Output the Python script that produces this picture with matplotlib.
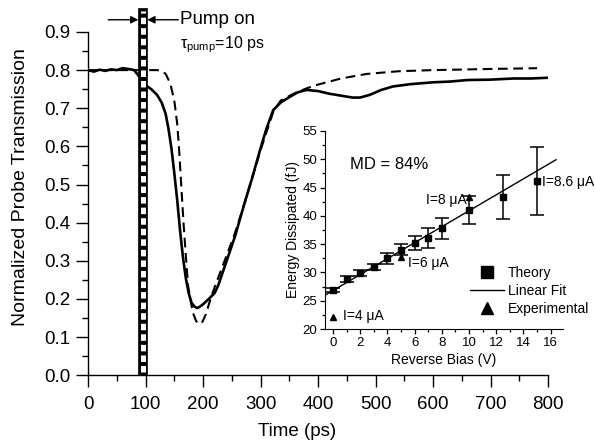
import numpy as np
import matplotlib
matplotlib.use("Agg")
import matplotlib.pyplot as plt
from matplotlib.lines import Line2D
from matplotlib.patches import Rectangle

plt.rcParams['font.family'] = ['Liberation Sans', 'DejaVu Sans']
plt.rcParams['mathtext.fontset'] = 'custom'
plt.rcParams['mathtext.rm'] = 'Liberation Sans'
plt.rcParams['mathtext.it'] = 'Liberation Sans'
plt.rcParams['lines.scale_dashes'] = False

# ---- main chart data: measured probe transmission (solid) ----
meas_t = [0, 10, 20, 30, 40, 50, 60, 70, 80, 88, 95, 103, 110, 120, 128, 135, 140,
          145, 150, 155, 160, 165, 170, 175, 180, 185, 190, 195, 200, 210, 220, 226,
          240, 256, 270, 285, 300, 310, 322, 335, 351, 365, 380, 400, 420, 440, 460,
          473, 490, 510, 530, 560, 600, 630, 660, 700, 740, 770, 800]
meas_v = [0.800, 0.796, 0.801, 0.798, 0.802, 0.800, 0.805, 0.803, 0.800, 0.785, 0.770,
          0.757, 0.750, 0.735, 0.715, 0.685, 0.645, 0.595, 0.530, 0.460, 0.380, 0.310,
          0.255, 0.215, 0.190, 0.180, 0.176, 0.180, 0.186, 0.200, 0.215, 0.234, 0.295,
          0.366, 0.440, 0.515, 0.595, 0.645, 0.695, 0.715, 0.730, 0.742, 0.748, 0.745,
          0.738, 0.733, 0.728, 0.728, 0.735, 0.748, 0.757, 0.763, 0.768, 0.770, 0.774,
          0.775, 0.778, 0.778, 0.780]

# ---- main chart data: model (dashed) ----
model_t = [0, 60, 120, 128, 135, 143, 150, 155, 158, 162, 166, 170, 174, 182, 188, 193,
           199, 205, 213, 221, 235, 254, 270, 285, 300, 322, 335, 360, 380, 400, 440,
           485, 540, 600, 700, 781]
model_v = [0.800, 0.800, 0.800, 0.798, 0.790, 0.765, 0.720, 0.660, 0.600, 0.500, 0.400,
           0.315, 0.234, 0.165, 0.142, 0.134, 0.140, 0.160, 0.200, 0.234, 0.290, 0.366,
           0.440, 0.515, 0.590, 0.690, 0.720, 0.740, 0.752, 0.762, 0.778, 0.790, 0.797,
           0.800, 0.803, 0.805]

pump_start, pump_end, pump_top = 87.5, 103.0, 0.962

# ---- inset data ----
theory_x = [0, 1, 2, 3, 4, 5, 6, 7, 8, 10, 12.5, 15]
theory_y = [26.9, 28.8, 29.9, 31.0, 32.5, 34.0, 35.2, 36.1, 37.8, 41.0, 43.3, 46.1]
theory_err = [0.3, 0.5, 0.5, 0.5, 1.0, 1.0, 1.3, 1.8, 1.9, 2.5, 3.9, 6.0]
exp_x = [0, 5, 10, 15]
exp_y = [22.1, 32.7, 43.3, 46.1]
exp_labels = ['I=4 \u03bcA', 'I=6 \u03bcA', 'I=8 \u03bcA', 'I=8.6 \u03bcA']
fit_slope, fit_intercept = 1.41, 26.8
fit_range = [-0.5, 16.4]

fig = plt.figure(figsize=(5.95, 4.44), dpi=100)
ax = fig.add_axes([0.148, 0.155, 0.773, 0.773])

ax.plot(meas_t, meas_v, color='black', lw=1.9, zorder=3)
ax.plot(model_t, model_v, color='black', lw=1.5, dashes=(7, 4), zorder=2)

# pump bar
ax.add_patch(Rectangle((pump_start, 0), pump_end - pump_start, pump_top,
                       facecolor='black', edgecolor='black', lw=0.5,
                       clip_on=False, zorder=5))
ax.plot([(pump_start + pump_end) / 2] * 2, [0.008, pump_top - 0.008], color='white',
        lw=3.6, dashes=(4.7, 2.9), solid_capstyle='butt', dash_capstyle='butt',
        clip_on=False, zorder=6)

ap = dict(arrowstyle='-|>', color='black', lw=1.0, mutation_scale=11, shrinkA=0, shrinkB=0)
ax.annotate('', xy=(pump_start, 0.932), xytext=(35, 0.932), arrowprops=ap,
            annotation_clip=False)
ax.annotate('', xy=(pump_end, 0.932), xytext=(157, 0.932), arrowprops=ap,
            annotation_clip=False)
ax.text(160, 0.932, 'Pump on', fontsize=13.5, va='center', ha='left')
ax.text(160, 0.866, r'$\tau_{\rm pump}$=10 ps', fontsize=11.5, va='center', ha='left')

ax.set_xlim(0, 800)
ax.set_ylim(0, 0.9)
ax.set_xticks(np.arange(0, 801, 100))
ax.set_xticks(np.arange(0, 801, 50), minor=True)
ax.set_yticks(np.arange(0, 0.91, 0.1))
ax.set_yticks(np.arange(0, 0.91, 0.05), minor=True)
ax.set_yticklabels([f'{v:.1f}' for v in np.arange(0, 0.91, 0.1)])
for s in ['top', 'right']:
    ax.spines[s].set_visible(False)
for s in ['left', 'bottom']:
    ax.spines[s].set_linewidth(1.0)
ax.tick_params(which='major', direction='out', length=8.5, width=1.0, labelsize=13.5)
ax.tick_params(which='minor', direction='out', length=4.5, width=1.0)
ax.tick_params(axis='x', which='major', pad=6.5)
ax.tick_params(axis='y', which='major', pad=4)
ax.set_xlabel('Time (ps)', fontsize=13.5)
ax.xaxis.set_label_coords(0.455, -0.14)
ax.set_ylabel('Normalized Probe Transmission', fontsize=14)
ax.yaxis.set_label_coords(-0.128, 0.547)

# ---- inset ----
ai = fig.add_axes([0.546, 0.259, 0.400, 0.446])
ai.set_facecolor('none')
xs = np.array(fit_range)
ai.plot(xs, fit_intercept + fit_slope * xs, color='black', lw=1.0, zorder=2)
ai.errorbar(theory_x, theory_y, yerr=theory_err, fmt='s', color='black', ms=4.5,
            elinewidth=1.1, capsize=5, capthick=1.1, zorder=3)
ai.plot(exp_x, exp_y, '^', color='black', ms=5, zorder=4)
ai.text(1.25, 49.0, 'MD = 84%', fontsize=12, va='center', ha='left')
ai.text(0.75, 22.3, exp_labels[0], fontsize=10, va='center', ha='left')
ai.text(5.5, 31.7, exp_labels[1], fontsize=10, va='center', ha='left')
ai.text(9.85, 42.8, exp_labels[2], fontsize=10, va='center', ha='right')
ai.text(15.4, 46.0, exp_labels[3], fontsize=10, va='center', ha='left')

ai.set_xlim(-0.6, 16.9)
ai.set_ylim(20, 55)
ai.set_xticks(np.arange(0, 17, 2))
ai.set_xticks(np.arange(0, 17, 1), minor=True)
ai.set_yticks(np.arange(20, 56, 5))
ai.set_yticks(np.arange(20, 56, 2.5), minor=True)
for s in ['top', 'right']:
    ai.spines[s].set_visible(False)
ai.tick_params(which='major', direction='out', length=3.5, width=0.9, labelsize=9.5, pad=2)
ai.tick_params(which='minor', direction='out', length=2.2, width=0.9)
ai.set_xlabel('Reverse Bias (V)', fontsize=10, labelpad=3)
ai.set_ylabel('Energy Dissipated (fJ)', fontsize=10, labelpad=2)

handles = [Line2D([], [], ls='none', marker='s', color='black', ms=8),
           Line2D([], [], color='black', lw=1.0),
           Line2D([], [], ls='none', marker='^', color='black', ms=9)]
fig.legend(handles, ['Theory', 'Linear Fit', 'Experimental'], loc='upper left',
           bbox_to_anchor=(0.790, 0.401), frameon=False, fontsize=10,
           handlelength=2.45, handletextpad=0.3, labelspacing=0.3,
           borderpad=0, borderaxespad=0)

fig.savefig('out.png', dpi=100)
